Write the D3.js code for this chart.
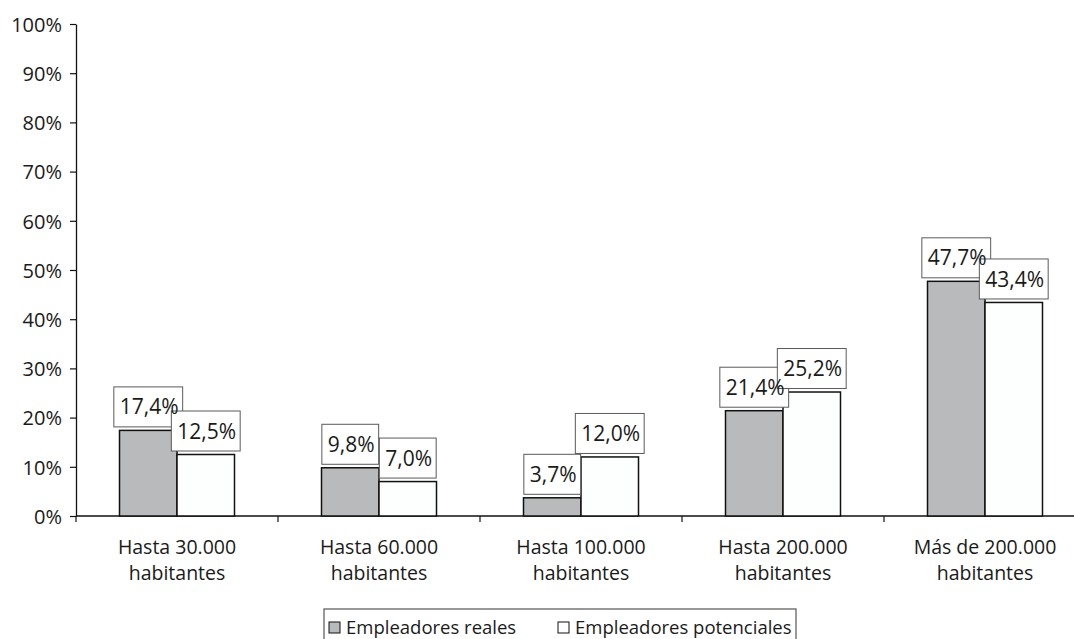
<!DOCTYPE html>
<html>
<head>
<meta charset="utf-8">
<script src="https://cdn.jsdelivr.net/npm/d3@7"></script>
<style>
  html, body { margin: 0; padding: 0; background: #fff; }
  svg { display: block; }
  text { font-family: "Open Sans", "DejaVu Sans", sans-serif; fill: #1a1a1a; }
</style>
</head>
<body>
<svg id="chart" width="1074" height="639"></svg>
<script>
// Share of employers by municipality size
const categories = [
  "Hasta 30.000 habitantes",
  "Hasta 60.000 habitantes",
  "Hasta 100.000 habitantes",
  "Hasta 200.000 habitantes",
  "Más de 200.000 habitantes"
];
const seriesNames = ["Empleadores reales", "Empleadores potenciales"];
const reales = [17.4, 9.8, 3.7, 21.4, 47.7];
const potenciales = [12.5, 7.0, 12.0, 25.2, 43.4];
const yTicks = [0, 10, 20, 30, 40, 50, 60, 70, 80, 90, 100];
const seriesColors = ["#b9babb", "#fdfefe"];

const svg = d3.select("#chart");

const plotLeft = 76, plotRight = 1086, plotTop = 24, plotBase = 516;

const x0 = d3.scaleBand().domain(categories).range([plotLeft, plotRight]).padding(0);
const groupWidth = 115;
const x1 = d3.scaleBand().domain(seriesNames).range([0, groupWidth]).padding(0);
const y = d3.scaleLinear().domain([0, 100]).range([plotBase, plotTop]);

const fmt = v => d3.format(".1f")(v).replace(".", ",") + "%";

// y axis
const yAxis = d3.axisLeft(y).tickValues(yTicks).tickFormat(d => d + "%")
  .tickSize(6).tickSizeOuter(0).tickPadding(8);
const gy = svg.append("g").attr("transform", `translate(${plotLeft},0)`).call(yAxis);
gy.select(".domain").attr("stroke", "#111").attr("stroke-width", 1.3);
gy.selectAll(".tick line").attr("stroke", "#111").attr("stroke-width", 1.2);
gy.selectAll(".tick text")
  .style("font-size", "20px")
  .style("font-family", "'Open Sans', sans-serif")
  .attr("fill", "#1a1a1a")
  .attr("dy", "0.36em");

// x axis line with ticks at category boundaries
svg.append("line").attr("x1", plotLeft).attr("x2", 1074).attr("y1", y(0)).attr("y2", y(0))
  .attr("stroke", "#111").attr("stroke-width", 1.3);
const bounds = categories.map(c => x0(c)).concat([x0(categories[categories.length - 1]) + x0.bandwidth()]);
svg.append("g").selectAll("line").data(bounds).join("line")
  .attr("x1", d => d).attr("x2", d => d)
  .attr("y1", y(0)).attr("y2", y(0) + 6)
  .attr("stroke", "#111").attr("stroke-width", 1.2);

// category labels (two lines)
const catG = svg.append("g");
categories.forEach(c => {
  const i = c.lastIndexOf(" ");
  const lines = [c.slice(0, i), c.slice(i + 1)];
  const cx = x0(c) + x0.bandwidth() / 2;
  const t = catG.append("text")
    .attr("x", cx)
    .attr("text-anchor", "middle")
    .style("font-size", "19.5px");
  lines.forEach((ln, k) => {
    t.append("tspan").attr("x", cx).attr("y", 554 + k * 25.5).text(ln);
  });
});

// bars
const seriesData = [reales, potenciales];
const offset = (x0.bandwidth() - groupWidth) / 2;
const barsG = svg.append("g");
seriesData.forEach((vals, s) => {
  barsG.selectAll(null).data(vals).join("rect")
    .attr("x", (d, i) => x0(categories[i]) + offset + x1(seriesNames[s]))
    .attr("y", d => y(d))
    .attr("width", x1.bandwidth())
    .attr("height", d => y(0) - y(d))
    .attr("fill", seriesColors[s])
    .attr("stroke", "#111")
    .attr("stroke-width", 1.5);
});

// value labels: boxes first (in order), texts drawn above all boxes
const boxG = svg.append("g");
const txtG = svg.append("g");
categories.forEach((c, i) => {
  seriesData.forEach((vals, s) => {
    const v = vals[i];
    const cx = x0(c) + offset + x1(seriesNames[s]) + x1.bandwidth() / 2;
    const t = txtG.append("text")
      .attr("y", y(v) - 3.5 - 20)
      .attr("dy", "0.36em")
      .style("font-size", "21px")
      .text(fmt(v));
    const tw = t.node().getComputedTextLength();
    const w = tw + 10;
    const bx = cx - w / 2;
    t.attr("x", bx + 6);
    boxG.append("rect").attr("x", bx).attr("y", y(v) - 3.5 - 40)
      .attr("width", w).attr("height", 40)
      .attr("fill", "#fff").attr("stroke", "#5a5a5a").attr("stroke-width", 1);
  });
});

// legend
const lg = svg.append("g");
lg.append("rect").attr("x", 324).attr("y", 609).attr("width", 472).attr("height", 40)
  .attr("fill", "#fff").attr("stroke", "#555").attr("stroke-width", 1.2);
const legendX = [329, 558];
seriesNames.forEach((n, s) => {
  lg.append("rect").attr("x", legendX[s]).attr("y", 622).attr("width", 11).attr("height", 11)
    .attr("fill", seriesColors[s]).attr("stroke", "#111").attr("stroke-width", 1);
  lg.append("text").attr("x", legendX[s] + 17).attr("y", 634)
    .style("font-size", "18.5px").text(n);
});
</script>
</body>
</html>
